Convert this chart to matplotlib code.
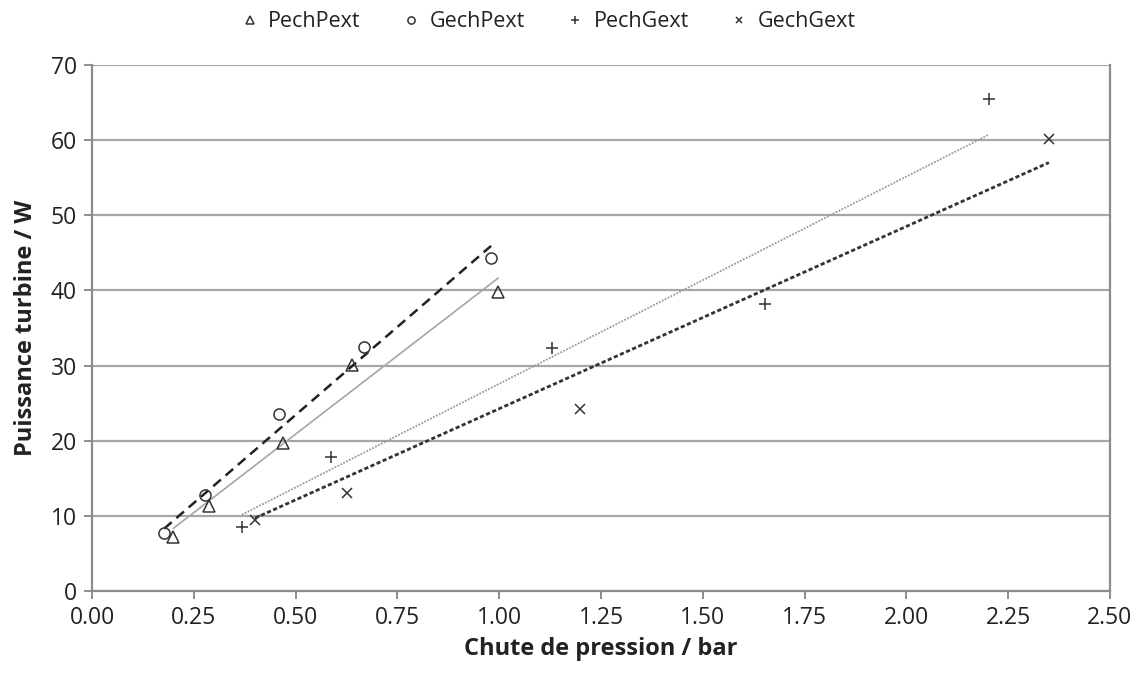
import numpy as np
import matplotlib.pyplot as plt

plt.rcParams["font.family"] = ["Open Sans", "DejaVu Sans"]

# ---- data ----
pp_x = [0.20, 0.287, 0.469, 0.639, 0.997]
pp_y = [7.2, 11.3, 19.7, 30.1, 39.8]

gp_x = [0.177, 0.278, 0.459, 0.668, 0.980]
gp_y = [7.7, 12.8, 23.6, 32.5, 44.3]

pg_x = [0.368, 0.587, 1.130, 1.653, 2.203]
pg_y = [8.5, 17.8, 32.4, 38.2, 65.5]

gg_x = [0.40, 0.626, 1.198, 2.350]
gg_y = [9.4, 13.1, 24.2, 60.1]

x_ticks = [0.0, 0.25, 0.5, 0.75, 1.0, 1.25, 1.5, 1.75, 2.0, 2.25, 2.5]
y_ticks = [0, 10, 20, 30, 40, 50, 60, 70]


def trend(ax, x, y, **kw):
    # linear trendline through the origin (Excel "set intercept = 0")
    x = np.asarray(x)
    y = np.asarray(y)
    k = np.sum(x * y) / np.sum(x * x)
    xs = np.array([x.min(), x.max()])
    ax.plot(xs, k * xs, **kw)


fig = plt.figure(figsize=(11.39, 6.77), dpi=100)
ax = fig.add_axes([0.0808, 0.127, 0.8937, 0.777])

mk = dict(linestyle="none", markerfacecolor="none", markeredgecolor="#333333",
          markeredgewidth=1.1, zorder=4)
ax.plot(pp_x, pp_y, marker="^", markersize=8, label="PechPext", **mk)
ax.plot(gp_x, gp_y, marker="o", markersize=8, label="GechPext", **mk)
ax.plot(pg_x, pg_y, marker="+", markersize=8, label="PechGext", **mk)
ax.plot(gg_x, gg_y, marker="x", markersize=7, label="GechGext", **mk)

trend(ax, pp_x, pp_y, color="#a6a6a6", lw=1.2, zorder=3)
trend(ax, gp_x, gp_y, color="#222222", lw=1.8, ls=(0, (4, 2.5)), zorder=3)
trend(ax, pg_x, pg_y, color="#999999", lw=1.3, ls=(0, (1, 0.8)), zorder=3)
trend(ax, gg_x, gg_y, color="#333333", lw=2.0, ls=(0, (1.5, 0.9)), zorder=3)

ax.set_xlim(0, 2.5)
ax.set_ylim(0, 70)
ax.set_xticks(x_ticks)
ax.set_xticklabels([f"{v:.2f}" for v in x_ticks])
ax.set_yticks(y_ticks)
ax.grid(axis="y", color="#a6a6a6", lw=1.6, zorder=0)
ax.set_axisbelow(True)

for s in ["left", "bottom", "right"]:
    ax.spines[s].set_color("#8c8c8c")
    ax.spines[s].set_linewidth(1.6)
ax.spines["top"].set_visible(False)
ax.tick_params(direction="out", length=6, width=1.4, color="#8c8c8c",
               labelsize=16.5, labelcolor="#222222", pad=5)
ax.tick_params(axis="y", pad=5)

ax.set_xlabel("Chute de pression / bar", fontsize=17, fontweight="bold",
              color="#222222", labelpad=5)
ax.set_ylabel("Puissance turbine / W", fontsize=17, fontweight="bold",
              color="#222222", labelpad=9)

fig.legend(loc="center", bbox_to_anchor=(0.482, 0.968), ncol=4, frameon=False,
           fontsize=15.5, handlelength=0.7, handletextpad=0.5, columnspacing=2.0,
           markerscale=0.65, labelcolor="#222222")

fig.savefig("out.png", dpi=100, facecolor="white")
